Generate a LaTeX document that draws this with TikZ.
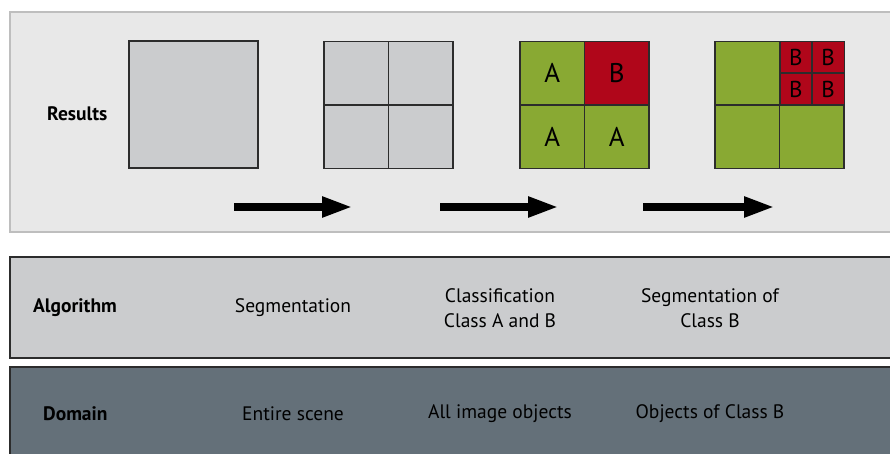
\documentclass[tikz,border=0pt]{standalone}
\usepackage{fontspec}
\setmainfont{PT Sans}
\usetikzlibrary{arrows.meta}
\definecolor{panelA}{HTML}{E8E8E8}
\definecolor{panelAb}{HTML}{BEBEBE}
\definecolor{panelB}{HTML}{CBCCCE}
\definecolor{panelC}{HTML}{647079}
\definecolor{cellgray}{HTML}{CBCCCE}
\definecolor{cellgreen}{HTML}{89A933}
\definecolor{cellred}{HTML}{B0061A}
\definecolor{edge}{HTML}{2C2C2C}
\tikzset{
  cell/.style={draw=edge, line width=1.5pt, inner sep=0pt, outer sep=0pt, font=\fontsize{27}{27}\selectfont},
  smallcell/.style={cell, font=\fontsize{23}{23}\selectfont},
  lbl/.style={font=\fontsize{19.5}{25}\selectfont, align=center, inner sep=0pt},
  hdr/.style={font=\bfseries\fontsize{19.5}{25}\selectfont, anchor=west, inner sep=0pt},
  bigarrow/.style={line width=8pt, -{Triangle[length=31pt,width=19pt]}, shorten >=0pt}
}
\begin{document}
\begin{tikzpicture}[x=1pt,y=-1pt]
\useasboundingbox (0,0) rectangle (890,454);
\fill[white] (0,0) rectangle (890,454);
% panels
\draw[fill=panelA, draw=panelAb, line width=1.5pt] (10,12) rectangle (895,232);
\draw[fill=panelB, draw=edge, line width=1.2pt] (10,257) rectangle (895,358);
\draw[fill=panelC, draw=edge, line width=1.2pt] (10,367) rectangle (895,460);
% headers
\node[hdr] (results) at (47,114) {Results};
\node[hdr] (algorithm) at (33,308) {Algorithm};
\node[hdr] (domain) at (43,414) {Domain};
% square 1
\node[cell, fill=cellgray, minimum width=129pt, minimum height=127pt] (s1) at (193.5,104.5) {};
% square 2
\node[cell, fill=cellgray, minimum width=64.5pt, minimum height=63.5pt] (s2a) at (356.25,73.25) {};
\node[cell, fill=cellgray, minimum width=64.5pt, minimum height=63.5pt] (s2b) at (420.75,73.25) {};
\node[cell, fill=cellgray, minimum width=64.5pt, minimum height=63.5pt] (s2c) at (356.25,136.75) {};
\node[cell, fill=cellgray, minimum width=64.5pt, minimum height=63.5pt] (s2d) at (420.75,136.75) {};
% square 3
\node[cell, fill=cellgreen, minimum width=64.5pt, minimum height=63.5pt] (s3a) at (552.25,73.25) {A};
\node[cell, fill=cellred, minimum width=64.5pt, minimum height=63.5pt] (s3b) at (616.75,73.25) {B};
\node[cell, fill=cellgreen, minimum width=64.5pt, minimum height=63.5pt] (s3c) at (552.25,136.75) {A};
\node[cell, fill=cellgreen, minimum width=64.5pt, minimum height=63.5pt] (s3d) at (616.75,136.75) {A};
% square 4
\node[cell, fill=cellgreen, minimum width=64.5pt, minimum height=63.5pt] (s4a) at (747.25,73.25) {};
\node[cell, fill=cellgreen, minimum width=64.5pt, minimum height=63.5pt] (s4c) at (747.25,136.75) {};
\node[cell, fill=cellgreen, minimum width=64.5pt, minimum height=63.5pt] (s4d) at (811.75,136.75) {};
\node[smallcell, fill=cellred, minimum width=32.25pt, minimum height=31.75pt] (s4b1) at (795.875,57.375) {B};
\node[smallcell, fill=cellred, minimum width=32.25pt, minimum height=31.75pt] (s4b2) at (828.125,57.375) {B};
\node[smallcell, fill=cellred, minimum width=32.25pt, minimum height=31.75pt] (s4b3) at (795.875,89.125) {B};
\node[smallcell, fill=cellred, minimum width=32.25pt, minimum height=31.75pt] (s4b4) at (828.125,89.125) {B};
% arrows
\coordinate (a1s) at (234,207);
\coordinate (a1e) at (353,207);
\coordinate (a2s) at (440,207);
\coordinate (a2e) at (559,207);
\coordinate (a3s) at (643,207);
\coordinate (a3e) at (775,207);
\draw[bigarrow] (a1s) -- (a1e);
\draw[bigarrow] (a2s) -- (a2e);
\draw[bigarrow] (a3s) -- (a3e);
% algorithm texts
\node[lbl] (alg1) at (293,308) {Segmentation};
\node[lbl] (alg2) at (500,308) {Classification\\Class A and B};
\node[lbl] (alg3) at (710,308) {Segmentation of\\Class B};
% domain texts
\node[lbl] (dom1) at (293,414) {Entire scene};
\node[lbl] (dom2) at (500,414) {All image objects};
\node[lbl] (dom3) at (710,414) {Objects of Class B};
\end{tikzpicture}
\end{document}
